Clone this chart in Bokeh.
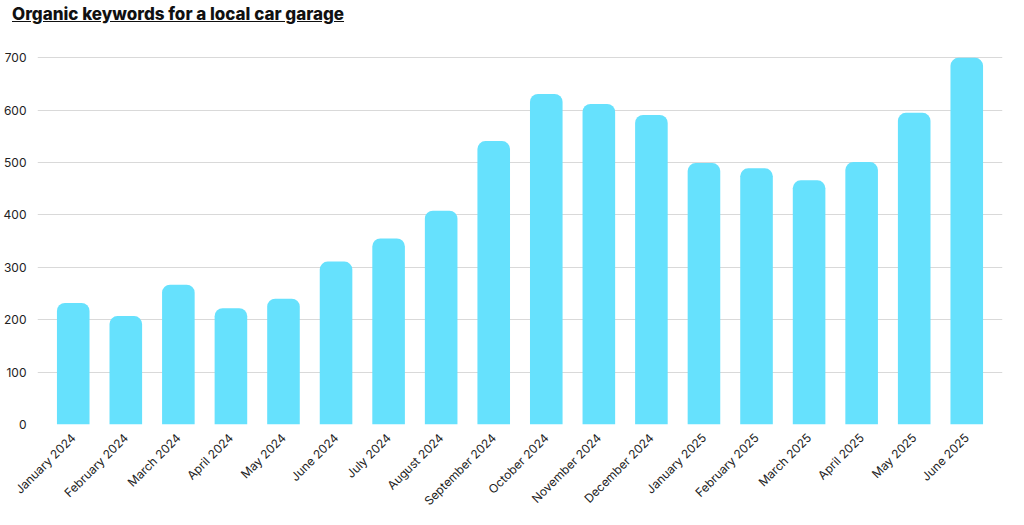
from bokeh.plotting import figure
from bokeh.models import Div, Range1d, FixedTicker
from bokeh.layouts import column
from bokeh.embed import file_html
from bokeh.resources import INLINE

months = ["January 2024","February 2024","March 2024","April 2024","May 2024","June 2024",
          "July 2024","August 2024","September 2024","October 2024","November 2024","December 2024",
          "January 2025","February 2025","March 2025","April 2025","May 2025","June 2025"]
keywords = [232, 207, 267, 222, 240, 311, 355, 408, 541, 631, 612, 591, 499, 489, 466, 501, 595, 700]
y_ticks = [0, 100, 200, 300, 400, 500, 600, 700]

title = Div(text='<div style="font-family:Inter,sans-serif;font-weight:800;font-size:17px;'
                 'text-decoration:underline;color:#111;">Organic keywords for a local car garage</div>',
            width=1000, height=28, margin=(2, 0, 0, 12))

p = figure(x_range=months, width=1006, height=486, output_backend="svg", toolbar_location=None,
           min_border_left=18, min_border_right=4, min_border_top=21)
p.y_range = Range1d(0, 712)
p.vbar(x=months, top=keywords, width=0.62, color="#66e1fd", line_color=None, border_radius=[8, 8, 0, 0])
p.outline_line_color = None
p.xgrid.grid_line_color = None
p.ygrid.grid_line_color = "#d9d9d9"
p.yaxis.ticker = FixedTicker(ticks=y_ticks)
for ax in (p.xaxis, p.yaxis):
    ax.axis_line_color = None
    ax.major_tick_line_color = None
    ax.minor_tick_line_color = None
    ax.major_label_text_font = "Inter"
    ax.major_label_text_font_size = "12px"
    ax.major_label_text_color = "#222"
p.xaxis.major_label_orientation = 0.785
p.x_range.range_padding = 0.02

open("out.html", "w").write(file_html(column(title, p, spacing=0), INLINE))
